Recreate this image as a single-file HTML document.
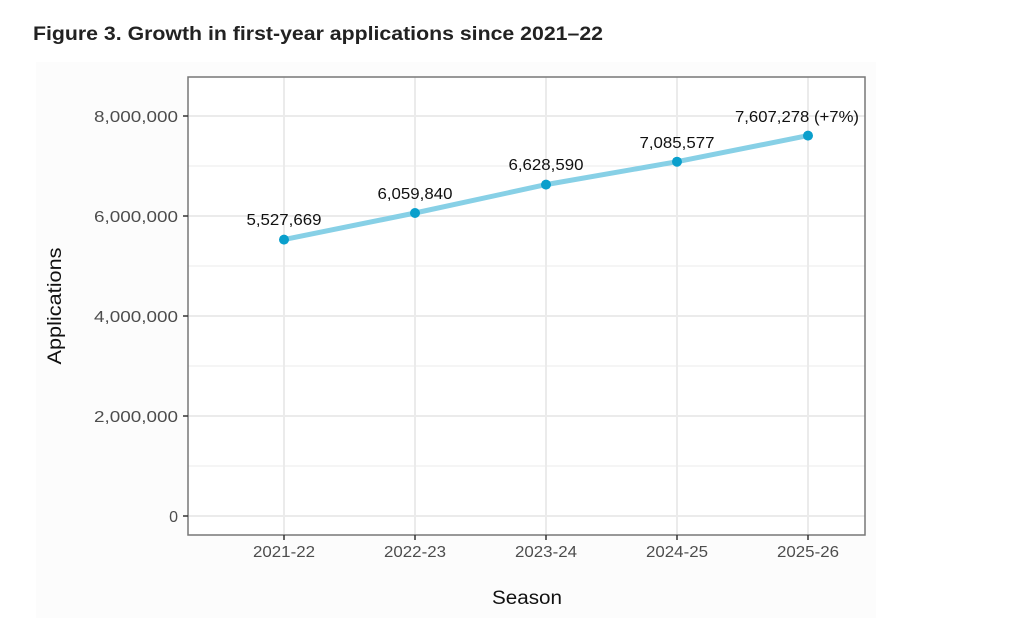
<!DOCTYPE html>
<html><head><style>
body{margin:0;background:#fff;}
</style></head><body>
<svg width="1014" height="621" xmlns="http://www.w3.org/2000/svg" style="display:block">
<rect width="1014" height="621" fill="#fff"/>
<text x="33" y="40" font-family="Liberation Sans, sans-serif" font-weight="bold" font-size="19" fill="#222" textLength="570" lengthAdjust="spacingAndGlyphs">Figure 3. Growth in first-year applications since 2021–22</text>
<rect x="36" y="62" width="840" height="556" fill="#fcfcfc"/>
<rect x="188" y="77" width="677" height="458" fill="#fff"/>
<g stroke="#ebebeb" stroke-width="1">
<line x1="188" x2="865" y1="166" y2="166"/><line x1="188" x2="865" y1="266" y2="266"/><line x1="188" x2="865" y1="366" y2="366"/><line x1="188" x2="865" y1="466" y2="466"/>
</g>
<g stroke="#ebebeb" stroke-width="2">
<line x1="188" x2="865" y1="116" y2="116"/><line x1="188" x2="865" y1="216" y2="216"/><line x1="188" x2="865" y1="316" y2="316"/><line x1="188" x2="865" y1="416" y2="416"/><line x1="188" x2="865" y1="516" y2="516"/>
<line x1="284" x2="284" y1="77" y2="535"/><line x1="415" x2="415" y1="77" y2="535"/><line x1="546" x2="546" y1="77" y2="535"/><line x1="677" x2="677" y1="77" y2="535"/><line x1="808" x2="808" y1="77" y2="535"/>
</g>
<rect x="188" y="77" width="677" height="458" fill="none" stroke="#777" stroke-width="1.5"/>
<g stroke="#333" stroke-width="1.5">
<line x1="183" x2="188" y1="116" y2="116"/><line x1="183" x2="188" y1="216" y2="216"/><line x1="183" x2="188" y1="316" y2="316"/><line x1="183" x2="188" y1="416" y2="416"/><line x1="183" x2="188" y1="516" y2="516"/>
<line x1="284" x2="284" y1="535" y2="540"/><line x1="415" x2="415" y1="535" y2="540"/><line x1="546" x2="546" y1="535" y2="540"/><line x1="677" x2="677" y1="535" y2="540"/><line x1="808" x2="808" y1="535" y2="540"/>
</g>
<g font-family="Liberation Sans, sans-serif" font-size="16" fill="#4d4d4d" text-anchor="end">
<text x="178" y="122" textLength="84" lengthAdjust="spacingAndGlyphs">8,000,000</text><text x="178" y="222" textLength="84" lengthAdjust="spacingAndGlyphs">6,000,000</text><text x="178" y="322" textLength="84" lengthAdjust="spacingAndGlyphs">4,000,000</text><text x="178" y="422" textLength="84" lengthAdjust="spacingAndGlyphs">2,000,000</text><text x="178" y="522">0</text>
</g>
<g font-family="Liberation Sans, sans-serif" font-size="16" fill="#4d4d4d" text-anchor="middle">
<text x="284" y="557" textLength="62" lengthAdjust="spacingAndGlyphs">2021-22</text><text x="415" y="557" textLength="62" lengthAdjust="spacingAndGlyphs">2022-23</text><text x="546" y="557" textLength="62" lengthAdjust="spacingAndGlyphs">2023-24</text><text x="677" y="557" textLength="62" lengthAdjust="spacingAndGlyphs">2024-25</text><text x="808" y="557" textLength="62" lengthAdjust="spacingAndGlyphs">2025-26</text>
</g>
<text x="527" y="604" font-family="Liberation Sans, sans-serif" font-size="19" fill="#111" text-anchor="middle" textLength="70" lengthAdjust="spacingAndGlyphs">Season</text>
<text transform="translate(61,306) rotate(-90)" font-family="Liberation Sans, sans-serif" font-size="19" fill="#111" text-anchor="middle" textLength="117" lengthAdjust="spacingAndGlyphs">Applications</text>
<polyline points="284,239.6 415,213 546,184.6 677,161.7 808,135.6" fill="none" stroke="#87d0e6" stroke-width="5" stroke-linecap="round"/>
<g fill="#0a9fcc">
<circle cx="284" cy="239.6" r="5"/><circle cx="415" cy="213" r="5"/><circle cx="546" cy="184.6" r="5"/><circle cx="677" cy="161.7" r="5"/><circle cx="808" cy="135.6" r="5"/>
</g>
<g font-family="Liberation Sans, sans-serif" font-size="16" fill="#111" text-anchor="middle">
<text x="284" y="225" textLength="75" lengthAdjust="spacingAndGlyphs">5,527,669</text><text x="415" y="199" textLength="75" lengthAdjust="spacingAndGlyphs">6,059,840</text><text x="546" y="170" textLength="75" lengthAdjust="spacingAndGlyphs">6,628,590</text><text x="677" y="148" textLength="75" lengthAdjust="spacingAndGlyphs">7,085,577</text><text x="797" y="122" textLength="124" lengthAdjust="spacingAndGlyphs">7,607,278 (+7%)</text>
</g>
</svg>
</body></html>
